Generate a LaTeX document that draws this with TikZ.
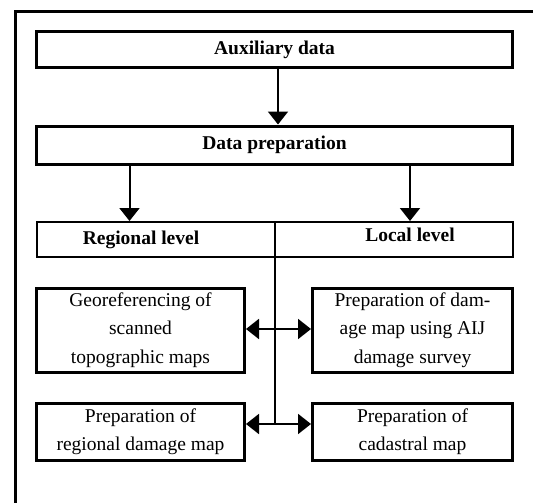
\documentclass[tikz,border=0pt]{standalone}
\usepackage{fontspec}
\setmainfont{Liberation Serif}
\usetikzlibrary{arrows.meta}
\newcommand\boxfont{\fontsize{19.5}{28.4}\selectfont}
\begin{document}
\begin{tikzpicture}[x=1pt,y=-1pt,
        frame/.style={line width=3pt},
        bigbox/.style={draw,line width=3pt,minimum width=476pt,inner sep=0pt,font=\boxfont\bfseries},
        levelbox/.style={draw,line width=2pt,minimum width=476pt,minimum height=35pt,inner sep=0pt},
        leveltext/.style={font=\boxfont\bfseries,inner sep=0pt},
        taskbox/.style={draw,line width=3pt,inner sep=0pt,align=center,font=\boxfont},
        link/.style={line width=2pt},
        tip/.style={-{Triangle[width=20pt,length=13pt]}},
        both/.style={{Triangle[width=20pt,length=13pt]}-{Triangle[width=20pt,length=13pt]}}]
        \useasboundingbox (0,0) rectangle (533,503);

        % Rahmen
        \draw[frame] (15.5,503) -- (15.5,11.5) -- (533,11.5);

        % Obere Stufen
        \node[bigbox,minimum height=36pt] (aux) at (274.5,50) {Auxiliary data};
        \node[bigbox,minimum height=38.5pt] (prep) at (274.5,145.25) {Data preparation};
        \node[levelbox] (levels) at (274.5,239.5) {};
        \node[leveltext] (regional) at (141,240) {Regional level};
        \node[leveltext] (local) at (410,235) {Local level};

        % Arbeitsschritte
        \node[taskbox,minimum width=208pt,minimum height=84pt] (georef) at (140.5,330)
            {Georeferencing of\\scanned\\topographic maps};
        \node[taskbox,minimum width=200pt,minimum height=84pt] (damage) at (412.5,330)
            {Preparation of dam-\\age map using AIJ\\damage survey};
        \node[taskbox,minimum width=208pt,minimum height=57pt] (regmap) at (140.5,431.5)
            {Preparation of\\regional damage map};
        \node[taskbox,minimum width=200pt,minimum height=57pt] (cadmap) at (412.5,431.5)
            {Preparation of\\cadastral map};

        % Verbindungen
        \coordinate (auxdrop) at (278,0);
        \coordinate (rdrop) at (129.5,0);
        \coordinate (ldrop) at (410,0);
        \coordinate (spine) at (275,0);
        \coordinate (upperjoin) at (275,329);
        \coordinate (lowerjoin) at (275,424);
        \draw[link,tip] (aux.south -| auxdrop) -- (prep.north -| auxdrop);
        \draw[link,tip] (prep.south -| rdrop) -- (levels.north -| rdrop);
        \draw[link,tip] (prep.south -| ldrop) -- (levels.north -| ldrop);
        \draw[link] (levels.north -| spine) -- (lowerjoin);
        \draw[link,both] (georef.east |- upperjoin) -- (damage.west |- upperjoin);
        \draw[link,both] (regmap.east |- lowerjoin) -- (cadmap.west |- lowerjoin);
    \end{tikzpicture}
\end{document}
